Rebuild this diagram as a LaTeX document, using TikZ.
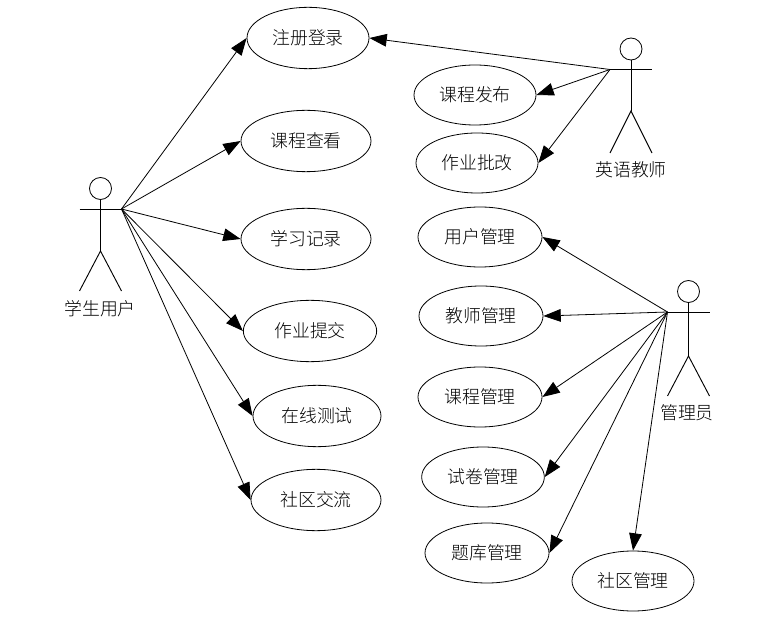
\documentclass[tikz,border=0pt]{standalone}
\usepackage{fontspec}
\setmainfont{Noto Sans CJK SC Light}
\usetikzlibrary{shapes.geometric,arrows.meta}
\tikzset{
 uc/.style={draw,ellipse,inner sep=0pt,font=\fontsize{13.4pt}{14pt}\selectfont,line width=0.6pt},
 lbl/.style={inner sep=0pt,font=\fontsize{13.4pt}{14pt}\selectfont},
 ar/.style={draw,line width=0.6pt,-{Triangle[length=13pt,width=9.5pt]}},
 ln/.style={line width=0.7pt}
}
\newcommand{\actor}[6]{% name, cx, arm y, hip offset, foot offset, hand offset
 \coordinate (#1) at (#2+#6,-#3);
 \node[draw,circle,minimum size=16.5pt,inner sep=0pt,line width=0.6pt] (#1h) at (#2,-#3+20.5) {};
 \draw[ln] (#1h.south) -- (#2,-#3-#4);
 \draw[ln] (#2-21,-#3) -- (#2+21,-#3);
 \draw[ln] (#2-21,-#3-#5) -- (#2,-#3-#4) -- (#2+21,-#3-#5);
}
\begin{document}
\begin{tikzpicture}[x=0.75pt,y=0.75pt]
\useasboundingbox (0,0) rectangle (771,-620);
\actor{stu}{100.5}{209}{42}{82}{21}
\actor{tea}{631}{69.5}{41.5}{83.5}{-21}
\actor{adm}{688.5}{312}{44}{84}{-21}
\node[lbl] (l1) at (100,-309) {学生用户};
\node[lbl] (l2) at (631,-170) {英语教师};
\node[lbl] (l3) at (687,-413) {管理员};
\node[uc,minimum width=91.5pt,minimum height=46pt] (a1) at (308,-38) {注册登录};
\node[uc,minimum width=97.5pt,minimum height=46pt] (a2) at (306,-141) {课程查看};
\node[uc,minimum width=97.5pt,minimum height=46pt] (a3) at (306,-239) {学习记录};
\node[uc,minimum width=100pt,minimum height=46pt] (a4) at (310,-331) {作业提交};
\node[uc,minimum width=96pt,minimum height=46pt] (a5) at (317,-416) {在线测试};
\node[uc,minimum width=97.5pt,minimum height=46pt] (a6) at (316,-500) {社区交流};
\node[uc,minimum width=91.5pt,minimum height=45pt] (b1) at (475,-95) {课程发布};
\node[uc,minimum width=91.5pt,minimum height=45pt] (b2) at (477,-163) {作业批改};
\node[uc,minimum width=93pt,minimum height=45pt] (c1) at (480,-237) {用户管理};
\node[uc,minimum width=93pt,minimum height=45pt] (c2) at (481,-316) {教师管理};
\node[uc,minimum width=93pt,minimum height=45pt] (c3) at (480,-397) {课程管理};
\node[uc,minimum width=92pt,minimum height=45pt] (c4) at (483,-477) {试卷管理};
\node[uc,minimum width=93pt,minimum height=45pt] (c5) at (487,-553) {题库管理};
\node[uc,minimum width=91.5pt,minimum height=45pt] (c6) at (633,-581) {社区管理};
\foreach \t in {a1,a2,a3,a4,a5,a6} \draw[ar] (stu) -- (\t.west);
\foreach \t in {a1,b1,b2} \draw[ar] (tea) -- (\t.east);
\foreach \t in {c1,c2,c3,c4,c5} \draw[ar] (adm) -- (\t.east);
\draw[ar] (adm) -- (c6.north);
\end{tikzpicture}
\end{document}
